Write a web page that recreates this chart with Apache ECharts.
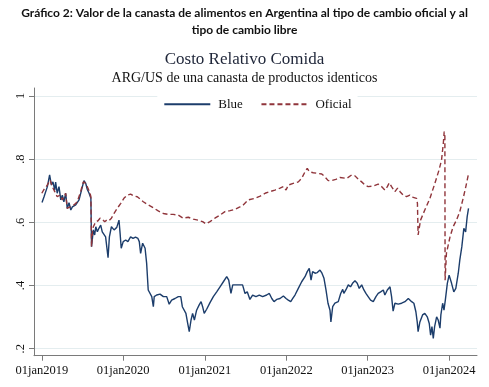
<!DOCTYPE html>
<html><head><meta charset="utf-8">
<script src="https://cdn.jsdelivr.net/npm/echarts@6/dist/echarts.min.js"></script>
<style>html,body{margin:0;padding:0;background:#fff}#c{width:489px;height:387px}</style>
</head><body><div id="c"></div>
<script>
const blueDates = ['2019-01-02','2019-01-11','2019-01-26','2019-02-05','2019-02-13','2019-02-20','2019-02-28','2019-03-04','2019-03-11','2019-03-19','2019-03-27','2019-04-03','2019-04-10','2019-04-18','2019-04-25','2019-05-03','2019-05-11','2019-05-18','2019-06-02','2019-06-17','2019-07-02','2019-07-09','2019-07-17','2019-07-24','2019-08-01','2019-08-09','2019-08-12','2019-08-20','2019-08-26','2019-08-31','2019-09-07','2019-09-14','2019-09-22','2019-09-29','2019-10-07','2019-10-14','2019-10-25','2019-10-31','2019-11-09','2019-11-21','2019-12-03','2019-12-13','2019-12-18','2019-12-23','2020-01-01','2020-01-12','2020-01-22','2020-02-03','2020-02-14','2020-02-25','2020-03-07','2020-03-13','2020-03-19','2020-03-28','2020-04-08','2020-04-15','2020-04-22','2020-04-30','2020-05-08','2020-05-15','2020-05-19','2020-05-30','2020-06-14','2020-06-29','2020-07-14','2020-07-25','2020-08-05','2020-08-20','2020-09-04','2020-09-15','2020-09-22','2020-09-29','2020-10-08','2020-10-16','2020-10-23','2020-10-31','2020-11-07','2020-11-15','2020-11-25','2020-12-06','2020-12-15','2020-12-22','2020-12-29','2021-01-09','2021-01-24','2021-02-08','2021-02-23','2021-03-10','2021-03-25','2021-04-09','2021-04-18','2021-04-28','2021-05-06','2021-05-21','2021-06-07','2021-06-19','2021-06-30','2021-07-10','2021-07-22','2021-08-03','2021-08-18','2021-09-02','2021-09-17','2021-10-05','2021-10-17','2021-10-28','2021-11-07','2021-11-19','2021-12-04','2021-12-19','2021-12-31','2022-01-10','2022-01-21','2022-01-30','2022-02-09','2022-02-24','2022-03-11','2022-03-26','2022-04-05','2022-04-14','2022-04-22','2022-04-29','2022-05-10','2022-05-20','2022-06-01','2022-06-10','2022-06-19','2022-06-28','2022-07-07','2022-07-16','2022-07-20','2022-07-28','2022-08-07','2022-08-22','2022-09-02','2022-09-11','2022-09-16','2022-09-25','2022-10-06','2022-10-16','2022-10-25','2022-11-05','2022-11-15','2022-11-24','2022-12-05','2022-12-15','2022-12-24','2023-01-03','2023-01-14','2023-01-26','2023-02-07','2023-02-17','2023-02-28','2023-03-12','2023-03-19','2023-03-30','2023-04-11','2023-04-18','2023-04-25','2023-05-03','2023-05-18','2023-06-02','2023-06-17','2023-07-02','2023-07-06','2023-07-17','2023-07-27','2023-08-05','2023-08-11','2023-08-15','2023-08-23','2023-09-04','2023-09-14','2023-09-25','2023-10-04','2023-10-10','2023-10-16','2023-10-22','2023-10-28','2023-11-06','2023-11-13','2023-11-21','2023-11-25','2023-12-03','2023-12-09','2023-12-15','2023-12-24','2024-01-01','2024-01-12','2024-01-22','2024-01-31','2024-02-11','2024-02-18','2024-02-27','2024-03-07','2024-03-15','2024-03-22','2024-03-28'];
const blueValues = [0.663,0.681,0.713,0.750,0.718,0.728,0.702,0.727,0.692,0.713,0.671,0.686,0.665,0.692,0.644,0.662,0.639,0.649,0.655,0.671,0.713,0.732,0.723,0.704,0.692,0.676,0.523,0.576,0.560,0.586,0.570,0.581,0.591,0.570,0.576,0.554,0.488,0.554,0.586,0.576,0.584,0.607,0.565,0.518,0.539,0.544,0.539,0.554,0.549,0.553,0.549,0.539,0.502,0.534,0.518,0.470,0.386,0.380,0.365,0.333,0.365,0.370,0.373,0.365,0.365,0.341,0.354,0.359,0.365,0.365,0.333,0.338,0.312,0.280,0.254,0.291,0.312,0.291,0.322,0.338,0.349,0.333,0.312,0.325,0.346,0.365,0.380,0.396,0.412,0.428,0.417,0.375,0.402,0.402,0.402,0.402,0.375,0.380,0.356,0.370,0.365,0.370,0.365,0.370,0.375,0.359,0.349,0.356,0.359,0.367,0.359,0.354,0.349,0.359,0.370,0.391,0.412,0.428,0.444,0.454,0.417,0.444,0.439,0.441,0.449,0.439,0.423,0.386,0.344,0.322,0.285,0.333,0.344,0.349,0.375,0.388,0.375,0.386,0.402,0.396,0.407,0.415,0.407,0.391,0.402,0.386,0.375,0.365,0.354,0.349,0.365,0.375,0.380,0.386,0.370,0.386,0.396,0.365,0.319,0.344,0.341,0.344,0.349,0.359,0.365,0.349,0.344,0.317,0.285,0.254,0.285,0.307,0.312,0.301,0.280,0.243,0.270,0.233,0.270,0.301,0.291,0.265,0.307,0.344,0.322,0.354,0.407,0.433,0.407,0.380,0.391,0.439,0.481,0.523,0.581,0.570,0.618,0.644];
const oficialDates = ['2019-01-01','2019-01-11','2019-01-26','2019-02-07','2019-02-17','2019-02-28','2019-03-11','2019-03-24','2019-04-03','2019-04-18','2019-04-25','2019-05-07','2019-05-25','2019-06-09','2019-06-24','2019-07-06','2019-07-17','2019-07-27','2019-08-05','2019-08-09','2019-08-12','2019-08-16','2019-08-20','2019-08-31','2019-09-10','2019-09-19','2019-09-29','2019-10-10','2019-10-19','2019-10-29','2019-11-09','2019-11-21','2019-12-05','2019-12-21','2020-01-04','2020-01-19','2020-02-03','2020-02-18','2020-03-04','2020-03-09','2020-03-31','2020-04-22','2020-05-15','2020-06-06','2020-06-29','2020-07-21','2020-08-12','2020-09-04','2020-09-26','2020-10-19','2020-11-10','2020-12-02','2020-12-22','2021-01-06','2021-01-24','2021-02-15','2021-03-10','2021-04-01','2021-04-24','2021-05-16','2021-06-07','2021-06-22','2021-07-15','2021-08-14','2021-09-06','2021-09-28','2021-10-20','2021-11-11','2021-12-04','2021-12-19','2021-12-31','2022-01-10','2022-02-01','2022-02-24','2022-03-11','2022-03-26','2022-04-05','2022-04-14','2022-05-02','2022-05-20','2022-06-09','2022-06-23','2022-07-08','2022-07-23','2022-08-11','2022-08-30','2022-09-06','2022-09-29','2022-10-21','2022-11-05','2022-11-20','2022-12-05','2022-12-20','2023-01-03','2023-01-26','2023-02-17','2023-03-04','2023-03-19','2023-03-30','2023-04-08','2023-04-18','2023-05-03','2023-05-15','2023-05-26','2023-06-09','2023-06-24','2023-07-09','2023-07-24','2023-08-08','2023-08-12','2023-08-15','2023-08-26','2023-09-14','2023-10-07','2023-10-29','2023-11-17','2023-11-28','2023-12-06','2023-12-10','2023-12-13','2023-12-14','2023-12-20','2024-01-05','2024-01-19','2024-02-03','2024-02-18','2024-03-04','2024-03-16','2024-03-27'];
const oficialValues = [0.692,0.704,0.718,0.734,0.713,0.697,0.681,0.686,0.671,0.692,0.644,0.649,0.655,0.665,0.697,0.728,0.723,0.708,0.692,0.681,0.523,0.570,0.586,0.602,0.605,0.613,0.610,0.602,0.607,0.605,0.613,0.628,0.644,0.660,0.676,0.686,0.689,0.683,0.681,0.679,0.665,0.655,0.646,0.636,0.628,0.625,0.625,0.623,0.613,0.616,0.610,0.607,0.602,0.595,0.602,0.613,0.623,0.634,0.637,0.641,0.649,0.655,0.671,0.676,0.683,0.692,0.697,0.702,0.708,0.713,0.702,0.718,0.723,0.728,0.739,0.760,0.771,0.760,0.757,0.755,0.753,0.744,0.732,0.732,0.736,0.742,0.742,0.739,0.750,0.747,0.736,0.728,0.718,0.713,0.715,0.721,0.713,0.702,0.713,0.725,0.713,0.697,0.708,0.697,0.686,0.681,0.686,0.679,0.676,0.660,0.560,0.607,0.639,0.676,0.723,0.766,0.797,0.850,0.887,0.871,0.417,0.502,0.554,0.586,0.607,0.634,0.676,0.713,0.750];
const yTicks = [0.2, 0.4, 0.6, 0.8, 1];
const yTickLabels = ['.2', '.4', '.6', '.8', '1'];
const xTickDates = ['2019-01-01','2020-01-01','2021-01-01','2022-01-01','2023-01-01','2024-01-01'];
const xTickLabels = ['01jan2019','01jan2020','01jan2021','01jan2022','01jan2023','01jan2024'];

function toTime(s) { const p = s.split('-').map(Number); return Date.UTC(p[0], p[1] - 1, p[2]); }
const xTickTimes = xTickDates.map(toTime);

const chart = echarts.init(document.getElementById('c'), null, { renderer: 'canvas' });
const serif = '"Liberation Serif", "Times New Roman", serif';
const axisGray = '#7a7a7a';
chart.setOption({
  animation: false,
  backgroundColor: '#ffffff',
  title: [
    { text: 'Gráfico 2: Valor de la canasta de alimentos en Argentina al tipo de cambio oficial y al\ntipo de cambio libre',
      left: 'center', top: 5, padding: 0,
      textStyle: { fontFamily: '"Liberation Sans Narrow", Lato, sans-serif', fontWeight: 'bold', fontSize: 12, lineHeight: 17, color: '#111', align: 'center' } },
    { text: 'Costo Relativo Comida', left: 'center', top: 51, padding: [0, 0, 0, 22],
      textStyle: { fontFamily: serif, fontWeight: 'normal', fontSize: 17, lineHeight: 18, color: '#1e2538' } },
    { text: 'ARG/US de una canasta de productos identicos', left: 'center', top: 70, padding: [0, 0, 0, 22],
      textStyle: { fontFamily: serif, fontWeight: 'normal', fontSize: 14, lineHeight: 16, color: '#111' } }
  ],
  legend: {
    left: 157.3, top: 92.7, padding: [5, 6, 5, 6], itemGap: 17.6, itemWidth: 46, itemHeight: 14,
    backgroundColor: '#ffffff',
    itemStyle: { opacity: 0 },
    textStyle: { fontFamily: serif, fontSize: 13, color: '#111', padding: [0, 0, 0, 3] },
    data: ['Blue', 'Oficial']
  },
  grid: { left: 34, right: 12, top: 88, bottom: 31.3, containLabel: false },
  xAxis: {
    type: 'value', min: toTime('2018-11-27'), max: toTime('2024-05-05'),
    axisLine: { show: true, lineStyle: { color: axisGray, width: 1 } },
    axisTick: { show: true, length: 5, lineStyle: { color: axisGray }, customValues: xTickTimes },
    axisLabel: { customValues: xTickTimes, margin: 9, fontFamily: serif, fontSize: 12.5, color: '#111',
      formatter: function (v) { const i = xTickTimes.findIndex(t => Math.abs(t - v) < 1000); return i >= 0 ? xTickLabels[i] : ''; } },
    splitLine: { show: false }
  },
  yAxis: {
    type: 'value', min: 0.178, max: 1.025,
    axisLine: { show: true, lineStyle: { color: axisGray, width: 1 } },
    axisTick: { show: true, length: 5, lineStyle: { color: axisGray }, customValues: yTicks },
    axisLabel: { customValues: yTicks, rotate: 90, margin: 7, fontFamily: serif, fontSize: 12.5, color: '#111',
      formatter: function (v) { const i = yTicks.findIndex(t => Math.abs(t - v) < 1e-6); return i >= 0 ? yTickLabels[i] : ''; } },
    splitLine: { show: true, lineStyle: { color: '#e4edef', width: 1.2 } }
  },
  series: [
    { name: 'Blue', type: 'line', symbol: 'none', showSymbol: false,
      data: blueDates.map((d, i) => [toTime(d), blueValues[i]]),
      lineStyle: { color: '#1c3d6b', width: 1.4 }, itemStyle: { color: '#1c3d6b' } },
    { name: 'Oficial', type: 'line', symbol: 'none', showSymbol: false,
      data: oficialDates.map((d, i) => [toTime(d), oficialValues[i]]),
      lineStyle: { color: '#90353b', width: 1.4, type: [5, 3] }, itemStyle: { color: '#90353b' } }
  ]
});
</script></body></html>
